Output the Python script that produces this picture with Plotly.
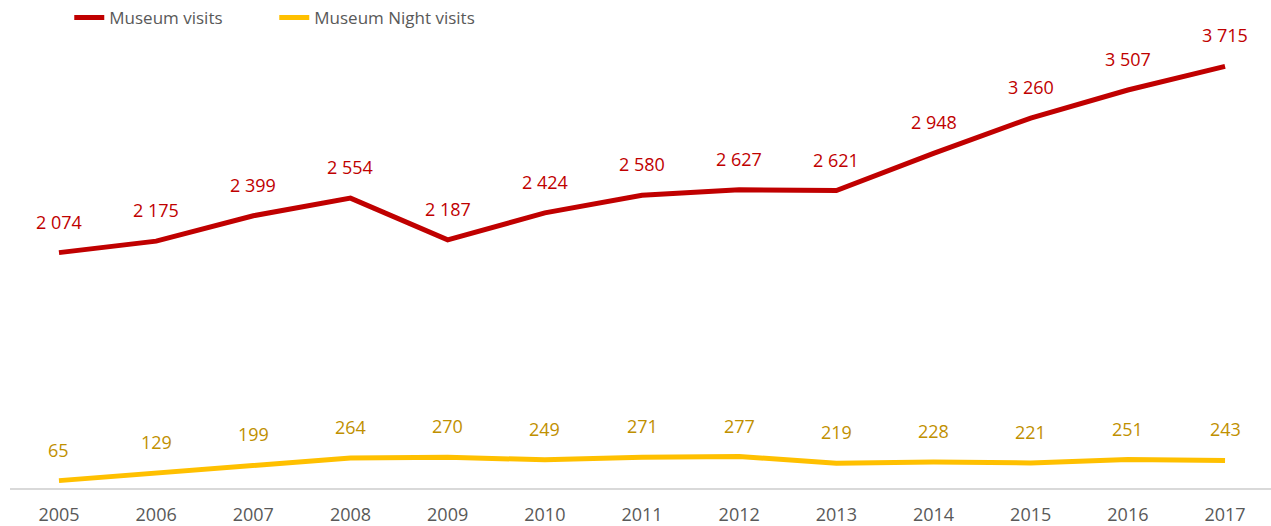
import plotly.graph_objects as go

years = [2005, 2006, 2007, 2008, 2009, 2010, 2011, 2012, 2013, 2014, 2015, 2016, 2017]
museum_visits = [2074, 2175, 2399, 2554, 2187, 2424, 2580, 2627, 2621, 2948, 3260, 3507, 3715]
night_visits = [65, 129, 199, 264, 270, 249, 271, 277, 219, 228, 221, 251, 243]

RED = "#C00000"
GOLD = "#FFC000"
GOLD_TXT = "#BF9000"
FONT = "Open Sans"

def fmt(v):
    return f"{v:,}".replace(",", " ")

fig = go.Figure()
fig.add_trace(go.Scatter(x=years, y=museum_visits, mode="lines", name="Museum visits",
                         line=dict(color=RED, width=5)))
fig.add_trace(go.Scatter(x=years, y=night_visits, mode="lines", name="Museum Night visits",
                         line=dict(color=GOLD, width=5)))

for x, y in zip(years, museum_visits):
    fig.add_annotation(x=x, y=y, text=fmt(y), showarrow=False, yshift=31,
                       font=dict(color=RED, size=18, family=FONT))
for x, y in zip(years, night_visits):
    fig.add_annotation(x=x, y=y, text=fmt(y), showarrow=False, yshift=31,
                       font=dict(color=GOLD_TXT, size=18, family=FONT))

fig.update_layout(
    width=1271, height=526,
    margin=dict(l=10, r=0, t=0, b=38, autoexpand=False),
    plot_bgcolor="white", paper_bgcolor="white",
    font=dict(family=FONT, color="#595959", size=18),
    showlegend=True,
    legend=dict(orientation="h", x=0.047, y=1.0, yanchor="top", xanchor="left",
                entrywidth=160, entrywidthmode="pixels",
                font=dict(size=17, color="#595959"), bgcolor="rgba(0,0,0,0)"),
    xaxis=dict(range=[2004.496, 2017.473], tickmode="array", tickvals=years,
               ticktext=[str(y) for y in years], showgrid=False, zeroline=False,
               showline=True, linecolor="#D9D9D9", linewidth=1.5, ticks="",
               ticklabelstandoff=10, automargin=False),
    yaxis=dict(range=[0, 4300], visible=False, showgrid=False, zeroline=False),
)

fig.write_html("out.html", config={"displayModeBar": False},
               post_script="document.body.style.margin='0';")
